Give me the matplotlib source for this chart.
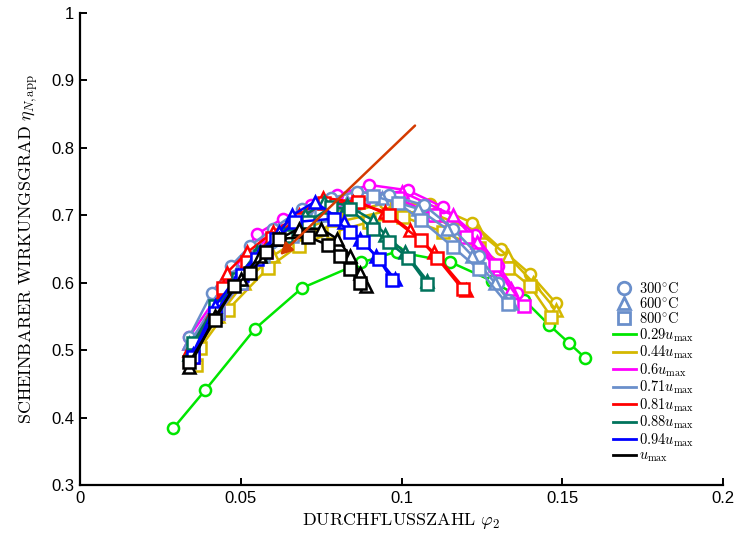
import matplotlib
matplotlib.use("Agg")
import matplotlib.pyplot as plt
from matplotlib.lines import Line2D

plt.rcParams['mathtext.fontset'] = 'cm'
plt.rcParams['font.family'] = ['Liberation Sans', 'DejaVu Sans']

# speed levels -> colour
speeds = ['0.29', '0.44', '0.6', '0.71', '0.81', '0.88', '0.94', '']
colors = ['#00e600', '#d4b800', '#ff00ff', '#6a8fcb', '#ff0000', '#00735c', '#0000ff', '#000000']
temps = ['300', '600', '800']
tmarks = ['o', '^', 's']

# data: (speed index, temp index, x, y)
green_c_x = [0.029, 0.039, 0.0545, 0.069, 0.0875, 0.0985, 0.115, 0.128, 0.138, 0.146, 0.152, 0.157]
green_c_y = [0.384, 0.441, 0.532, 0.592, 0.630, 0.646, 0.631, 0.603, 0.575, 0.537, 0.511, 0.489]

yel_c_x = [0.035, 0.042, 0.050, 0.058, 0.068, 0.080, 0.095, 0.109, 0.122, 0.131, 0.140, 0.148]
yel_c_y = [0.500, 0.560, 0.610, 0.645, 0.675, 0.700, 0.718, 0.716, 0.689, 0.650, 0.613, 0.570]
yel_t_x = [0.035, 0.043, 0.051, 0.060, 0.070, 0.082, 0.097, 0.111, 0.124, 0.133, 0.141, 0.148]
yel_t_y = [0.490, 0.550, 0.600, 0.640, 0.670, 0.692, 0.708, 0.700, 0.675, 0.640, 0.600, 0.560]
yel_s_x = [0.036, 0.0373, 0.046, 0.0585, 0.068, 0.0787, 0.090, 0.1005, 0.113, 0.124, 0.133, 0.140, 0.1466]
yel_s_y = [0.478, 0.503, 0.560, 0.622, 0.655, 0.675, 0.690, 0.698, 0.675, 0.652, 0.622, 0.595, 0.549]

mag_c_x = [0.034, 0.042, 0.048, 0.055, 0.063, 0.072, 0.080, 0.090, 0.102, 0.113, 0.123, 0.130, 0.136]
mag_c_y = [0.520, 0.575, 0.620, 0.672, 0.695, 0.715, 0.730, 0.745, 0.737, 0.712, 0.671, 0.625, 0.585]
mag_t_x = [0.034, 0.042, 0.049, 0.057, 0.066, 0.076, 0.087, 0.100, 0.116, 0.1235, 0.130, 0.134]
mag_t_y = [0.510, 0.565, 0.615, 0.655, 0.685, 0.710, 0.730, 0.735, 0.700, 0.660, 0.620, 0.590]
mag_s_x = [0.035, 0.043, 0.050, 0.058, 0.067, 0.077, 0.088, 0.099, 0.110, 0.120, 0.129, 0.138]
mag_s_y = [0.500, 0.555, 0.600, 0.645, 0.680, 0.705, 0.725, 0.725, 0.700, 0.668, 0.626, 0.566]

sb_c_x = [0.034, 0.041, 0.047, 0.053, 0.060, 0.069, 0.078, 0.086, 0.096, 0.107, 0.116, 0.124, 0.130, 0.133]
sb_c_y = [0.520, 0.585, 0.625, 0.655, 0.680, 0.710, 0.725, 0.735, 0.730, 0.715, 0.680, 0.640, 0.600, 0.575]
sb_t_x = [0.034, 0.042, 0.049, 0.056, 0.064, 0.073, 0.083, 0.094, 0.105, 0.114, 0.122, 0.129, 0.134]
sb_t_y = [0.510, 0.570, 0.615, 0.650, 0.680, 0.705, 0.720, 0.725, 0.710, 0.680, 0.640, 0.600, 0.570]
sb_s_x = [0.035, 0.043, 0.050, 0.057, 0.066, 0.075, 0.085, 0.091, 0.099, 0.106, 0.116, 0.124, 0.133]
sb_s_y = [0.495, 0.555, 0.600, 0.640, 0.670, 0.700, 0.715, 0.729, 0.718, 0.693, 0.653, 0.620, 0.568]

red_t_x = [0.034, 0.041, 0.0457, 0.052, 0.060, 0.068, 0.0756, 0.085, 0.095, 0.1026, 0.110, 0.120]
red_t_y = [0.500, 0.555, 0.615, 0.645, 0.675, 0.700, 0.726, 0.720, 0.705, 0.678, 0.645, 0.589]
red_s_x = [0.035, 0.0445, 0.052, 0.0597, 0.068, 0.076, 0.0865, 0.096, 0.106, 0.111, 0.119]
red_s_y = [0.490, 0.592, 0.630, 0.667, 0.695, 0.718, 0.720, 0.700, 0.663, 0.637, 0.590]

teal_t_x = [0.034, 0.041, 0.048, 0.055, 0.063, 0.070, 0.076, 0.083, 0.091, 0.095, 0.101, 0.108]
teal_t_y = [0.495, 0.550, 0.600, 0.645, 0.675, 0.700, 0.720, 0.715, 0.693, 0.671, 0.645, 0.603]
teal_s_x = [0.035, 0.042, 0.049, 0.056, 0.064, 0.071, 0.078, 0.084, 0.091, 0.096, 0.102, 0.108]
teal_s_y = [0.510, 0.565, 0.605, 0.640, 0.670, 0.690, 0.712, 0.709, 0.680, 0.660, 0.637, 0.598]

blue_t_x = [0.035, 0.042, 0.049, 0.056, 0.062, 0.066, 0.073, 0.082, 0.087, 0.092, 0.098]
blue_t_y = [0.495, 0.565, 0.610, 0.645, 0.675, 0.700, 0.720, 0.690, 0.665, 0.640, 0.605]
blue_s_x = [0.035, 0.042, 0.0504, 0.055, 0.061, 0.067, 0.079, 0.084, 0.088, 0.093, 0.097]
blue_s_y = [0.490, 0.555, 0.612, 0.635, 0.665, 0.690, 0.695, 0.675, 0.660, 0.635, 0.604]

blk_t_x = [0.034, 0.042, 0.050, 0.056, 0.062, 0.068, 0.075, 0.080, 0.084, 0.087, 0.089]
blk_t_y = [0.475, 0.550, 0.605, 0.640, 0.665, 0.680, 0.680, 0.665, 0.640, 0.615, 0.595]
blk_s_x = [0.034, 0.042, 0.048, 0.053, 0.058, 0.062, 0.071, 0.077, 0.081, 0.084, 0.087]
blk_s_y = [0.482, 0.545, 0.595, 0.615, 0.645, 0.665, 0.668, 0.656, 0.640, 0.620, 0.600]

series = [
    (0, 0, green_c_x, green_c_y),
    (1, 0, yel_c_x, yel_c_y), (1, 1, yel_t_x, yel_t_y), (1, 2, yel_s_x, yel_s_y),
    (2, 0, mag_c_x, mag_c_y), (2, 1, mag_t_x, mag_t_y), (2, 2, mag_s_x, mag_s_y),
    (3, 0, sb_c_x, sb_c_y), (3, 1, sb_t_x, sb_t_y), (3, 2, sb_s_x, sb_s_y),
    (4, 1, red_t_x, red_t_y), (4, 2, red_s_x, red_s_y),
    (5, 1, teal_t_x, teal_t_y), (5, 2, teal_s_x, teal_s_y),
    (6, 1, blue_t_x, blue_t_y), (6, 2, blue_s_x, blue_s_y),
    (7, 1, blk_t_x, blk_t_y), (7, 2, blk_s_x, blk_s_y),
]

# arrow (start, end)
arrow_x = [0.1042, 0.0622]
arrow_y = [0.833, 0.641]

fig = plt.figure(figsize=(7.41, 5.41), dpi=100)
ax = fig.add_axes([0.108, 0.1035, 0.8677, 0.8725])

for si, ti, xs, ys in series:
    ax.plot(xs, ys, color=colors[si], lw=1.8, marker=tmarks[ti], ms=8,
            mfc='white', mec=colors[si], mew=1.8)

ax.annotate('', xy=(arrow_x[1], arrow_y[1]), xytext=(arrow_x[0], arrow_y[0]),
            arrowprops=dict(arrowstyle='-|>', color='#d43a00', lw=1.8,
                            mutation_scale=18, shrinkA=0, shrinkB=0))

ax.set_xlim(0, 0.2)
ax.set_ylim(0.3, 1.0)
ax.set_xticks([0, 0.05, 0.1, 0.15, 0.2])
ax.set_xticklabels(['0', '0.05', '0.1', '0.15', '0.2'])
ax.set_yticks([0.3, 0.4, 0.5, 0.6, 0.7, 0.8, 0.9, 1.0])
ax.set_yticklabels(['0.3', '0.4', '0.5', '0.6', '0.7', '0.8', '0.9', '1'])
ax.spines['top'].set_visible(False)
ax.spines['right'].set_visible(False)
ax.spines['left'].set_linewidth(1.6)
ax.spines['bottom'].set_linewidth(1.6)
ax.tick_params(direction='in', length=5, width=1.4, labelsize=12, pad=4)

ax.set_xlabel(r'$\mathrm{DURCHFLUSSZAHL}\ \varphi_2$', fontsize=13, labelpad=4)
ax.set_ylabel(r'$\mathrm{SCHEINBARER\ WIRKUNGSGRAD}\ \eta_{N,\mathrm{app}}$', fontsize=13, labelpad=8)

handles = []
labels = []
for t, m in zip(temps, tmarks):
    handles.append(Line2D([], [], ls='none', marker=m, ms=9, mfc='white', mec='#6a8fcb', mew=2))
    labels.append(r'$%s^{\circ}\mathrm{C}$' % t)
for s, c in zip(speeds, colors):
    handles.append(Line2D([], [], color=c, lw=2))
    labels.append(r'$%su_{\mathrm{max}}$' % s)
ax.legend(handles, labels, loc='upper left', bbox_to_anchor=(0.815, 0.45), frameon=False,
          fontsize=10.5, handlelength=1.6, handletextpad=0.2, labelspacing=0.0,
          borderpad=0.1)

fig.savefig('out.png', dpi=100)
